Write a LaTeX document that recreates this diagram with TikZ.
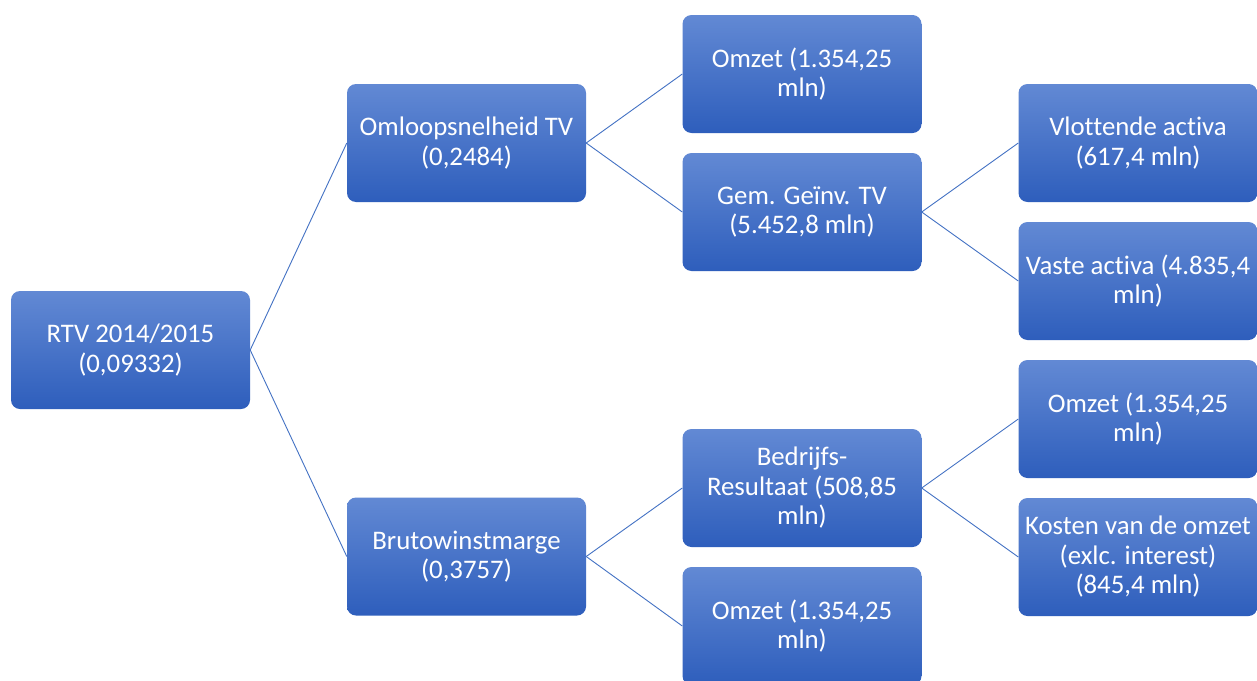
\documentclass[tikz,border=0pt]{standalone}
\usepackage{fontspec}
\setmainfont{Carlito}[Ligatures=NoCommon]
\definecolor{boxtop}{RGB}{98,137,212}
\definecolor{boxbot}{RGB}{46,94,188}
\definecolor{linec}{RGB}{68,114,196}
\tikzset{
  box/.style={rounded corners=9pt, top color=boxtop, bottom color=boxbot, draw=none,
    minimum width=239pt, minimum height=118pt, inner sep=0pt, align=center,
    text=white, font=\fontsize{26.8}{29.5}\selectfont},
  conn/.style={draw=linec, line width=0.9pt}
}
\begin{document}
\begin{tikzpicture}[x=1pt,y=-1pt]
\useasboundingbox (0,0) rectangle (1257,680);
\clip (0,0) rectangle (1257,680);
\fill[white] (0,0) rectangle (1257,680);
\node[box] (root) at (130.5,350) {RTV 2014/2015\\(0,09332)};
\node[box] (oms) at (466.5,143) {Omloopsnelheid TV\\(0,2484)};
\node[box] (bwm) at (466.5,556.5) {Brutowinstmarge\\(0,3757)};
\node[box] (omz1) at (802,74) {Omzet (1.354,25\\mln)};
\node[box] (gem) at (802,212) {Gem. Geïnv. TV\\(5.452,8 mln)};
\node[box] (vlot) at (1138,143) {Vlottende activa\\(617,4 mln)};
\node[box] (vast) at (1138,281) {Vaste activa (4.835,4\\mln)};
\node[box] (bedr) at (802,488) {Bedrijfs-\\Resultaat (508,85\\mln)};
\node[box] (omz2) at (802,626) {Omzet (1.354,25\\mln)};
\node[box] (omz3) at (1138,419) {Omzet (1.354,25\\mln)};
\node[box] (kost) at (1138,557) {Kosten van de omzet\\(exlc. interest)\\(845,4 mln)};
\draw[conn] (root.east) -- (oms.west);
\draw[conn] (root.east) -- (bwm.west);
\draw[conn] (oms.east) -- (omz1.west);
\draw[conn] (oms.east) -- (gem.west);
\draw[conn] (gem.east) -- (vlot.west);
\draw[conn] (gem.east) -- (vast.west);
\draw[conn] (bwm.east) -- (bedr.west);
\draw[conn] (bwm.east) -- (omz2.west);
\draw[conn] (bedr.east) -- (omz3.west);
\draw[conn] (bedr.east) -- (kost.west);
\end{tikzpicture}
\end{document}
